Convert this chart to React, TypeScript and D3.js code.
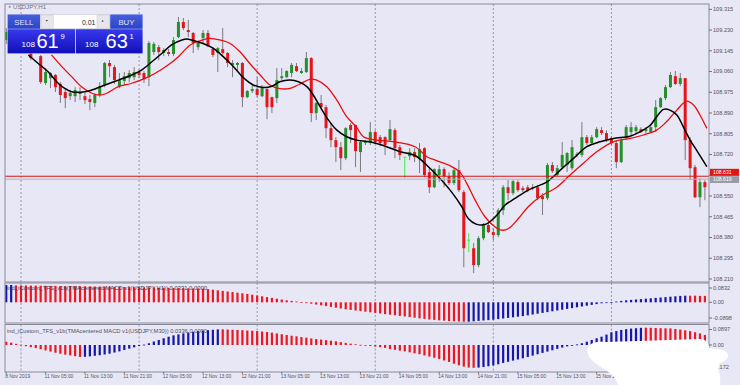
import React from "react";
import * as d3 from "d3";

// ---------- DATA ----------
const symbolTitle = "USDJPY,H1";
const firstBar = -3; // bar index of the first candle (0 = 11 Nov 00:00)

const barOpen = [
  109.189, 109.222, 109.197, 109.169, 109.189, 109.160, 109.148, 109.123, 109.013, 109.033,
  109.046, 109.009, 108.976, 108.959, 108.959, 108.976, 108.959, 108.947, 108.931, 108.964,
  109.005, 109.095, 109.078, 109.000, 109.021, 109.033, 109.037, 109.058, 109.054, 109.037,
  109.140, 109.160, 109.136, 109.140, 109.132, 109.201, 109.263, 109.230, 109.218, 109.160,
  109.197, 109.218, 109.152, 109.136, 109.152, 109.136, 109.087, 109.087, 109.095, 108.955,
  108.980, 108.988, 108.959, 108.988, 108.955, 108.951, 109.033, 109.037, 109.054, 109.082,
  109.054, 109.058, 109.115, 108.890, 108.931, 108.914, 108.828, 108.779, 108.750, 108.705,
  108.841, 108.841, 108.730, 108.767, 108.767, 108.812, 108.791, 108.791, 108.779, 108.820,
  108.750, 108.709, 108.713, 108.730, 108.701, 108.746, 108.648, 108.586, 108.636, 108.660,
  108.631, 108.603, 108.656, 108.566, 108.369, 108.336, 108.267, 108.377, 108.431, 108.402,
  108.390, 108.492, 108.586, 108.562, 108.607, 108.582, 108.586, 108.582, 108.586, 108.549,
  108.541, 108.677, 108.636, 108.668, 108.677, 108.664, 108.718, 108.718, 108.791, 108.767,
  108.791, 108.820, 108.808, 108.787, 108.767, 108.689, 108.791, 108.812, 108.816, 108.824,
  108.816, 108.812, 108.832, 108.914, 108.951, 108.996, 109.041, 109.009, 109.033, 108.779,
  108.668, 108.545, 108.607,
];
const barHigh = [
  109.238, 109.230, 109.210, 109.201, 109.197, 109.173, 109.160, 109.128, 109.074, 109.058,
  109.050, 109.017, 108.992, 108.984, 108.996, 108.996, 108.972, 108.964, 108.972, 109.017,
  109.099, 109.107, 109.087, 109.054, 109.058, 109.066, 109.078, 109.066, 109.062, 109.185,
  109.181, 109.169, 109.156, 109.152, 109.201, 109.283, 109.279, 109.271, 109.222, 109.181,
  109.230, 109.230, 109.160, 109.160, 109.238, 109.140, 109.107, 109.099, 109.099, 108.984,
  109.005, 109.037, 109.005, 108.992, 108.957, 109.074, 109.074, 109.066, 109.095, 109.095,
  109.074, 109.140, 109.119, 108.935, 108.964, 108.923, 108.849, 108.791, 108.771, 108.832,
  108.849, 108.843, 108.779, 108.779, 108.853, 108.820, 108.800, 108.795, 108.861, 108.828,
  108.759, 108.709, 108.746, 108.746, 108.767, 108.750, 108.664, 108.664, 108.677, 108.668,
  108.648, 108.664, 108.697, 108.574, 108.398, 108.357, 108.385, 108.439, 108.443, 108.418,
  108.500, 108.595, 108.615, 108.615, 108.615, 108.591, 108.595, 108.599, 108.595, 108.562,
  108.685, 108.689, 108.677, 108.771, 108.730, 108.779, 108.730, 108.853, 108.800, 108.800,
  108.832, 108.832, 108.820, 108.795, 108.779, 108.787, 108.841, 108.853, 108.841, 108.832,
  108.832, 108.841, 108.943, 108.955, 109.005, 109.058, 109.062, 109.054, 109.033, 108.791,
  108.677, 108.623, 108.615,
];
const barLow = [
  109.173, 109.181, 109.156, 109.156, 109.144, 109.107, 109.136, 109.009, 109.005, 108.992,
  108.976, 108.931, 108.910, 108.943, 108.935, 108.943, 108.927, 108.902, 108.914, 108.955,
  108.996, 109.037, 109.009, 108.992, 109.005, 109.017, 109.025, 109.033, 109.013, 109.000,
  109.128, 109.107, 109.123, 109.123, 109.123, 109.197, 109.230, 109.201, 109.136, 109.148,
  109.177, 109.160, 109.119, 109.058, 109.128, 109.078, 109.037, 109.066, 108.914, 108.951,
  108.972, 108.955, 108.955, 108.865, 108.890, 108.931, 109.025, 109.033, 109.037, 109.058,
  109.050, 109.054, 108.853, 108.861, 108.902, 108.787, 108.750, 108.689, 108.656, 108.697,
  108.767, 108.668, 108.648, 108.759, 108.759, 108.763, 108.754, 108.718, 108.771, 108.705,
  108.697, 108.623, 108.697, 108.689, 108.644, 108.627, 108.562, 108.582, 108.607, 108.586,
  108.595, 108.595, 108.566, 108.258, 108.320, 108.234, 108.258, 108.369, 108.398, 108.369,
  108.381, 108.472, 108.533, 108.554, 108.566, 108.566, 108.566, 108.574, 108.533, 108.472,
  108.533, 108.644, 108.631, 108.664, 108.648, 108.656, 108.709, 108.709, 108.759, 108.759,
  108.787, 108.800, 108.771, 108.759, 108.664, 108.685, 108.779, 108.800, 108.808, 108.808,
  108.808, 108.808, 108.812, 108.910, 108.943, 108.992, 109.005, 109.000, 108.697, 108.615,
  108.541, 108.504, 108.533,
];
const barClose = [
  109.222, 109.197, 109.169, 109.189, 109.156, 109.115, 109.140, 109.017, 109.058, 109.054,
  108.996, 108.964, 108.951, 108.972, 108.984, 108.968, 108.943, 108.935, 108.964, 109.000,
  109.095, 109.082, 109.025, 109.025, 109.041, 109.054, 109.058, 109.046, 109.029, 109.177,
  109.173, 109.140, 109.148, 109.132, 109.189, 109.263, 109.238, 109.222, 109.177, 109.177,
  109.218, 109.164, 109.128, 109.156, 109.136, 109.095, 109.095, 109.095, 108.955, 108.980,
  108.988, 108.964, 108.996, 108.914, 108.914, 109.025, 109.041, 109.062, 109.087, 109.062,
  109.062, 109.115, 108.890, 108.931, 108.914, 108.828, 108.779, 108.750, 108.705, 108.828,
  108.820, 108.734, 108.771, 108.771, 108.812, 108.771, 108.767, 108.759, 108.824, 108.746,
  108.718, 108.709, 108.730, 108.709, 108.742, 108.636, 108.586, 108.660, 108.660, 108.631,
  108.603, 108.656, 108.574, 108.336, 108.369, 108.267, 108.377, 108.431, 108.402, 108.390,
  108.492, 108.586, 108.562, 108.611, 108.574, 108.574, 108.574, 108.586, 108.541, 108.537,
  108.677, 108.652, 108.664, 108.718, 108.726, 108.750, 108.722, 108.791, 108.767, 108.791,
  108.824, 108.808, 108.779, 108.767, 108.689, 108.779, 108.832, 108.832, 108.832, 108.812,
  108.824, 108.832, 108.914, 108.951, 108.996, 109.046, 109.009, 109.033, 108.779, 108.664,
  108.545, 108.607, 108.586,
];

// centered TMA (black) — [bar, price]
const tmaCenteredBars = [1.5, 3.5, 5.5, 7.6, 8.9, 10.3, 13, 14.4, 17.1, 19.8, 22.5, 24.5, 26.6, 28.6, 30.6, 32.7, 33.7, 35, 37, 39.1, 41.1, 43.2, 45.2, 47.2, 49.3, 51, 52.6, 54.7, 56.4, 58.1, 59.4, 60.8, 62.5, 64.2, 66.2, 68.2, 70.9, 74.3, 77, 80.1, 82.8, 85.5, 87.5, 89.6, 90.9, 92.5, 94.3, 95.7, 97, 98.4, 100.4, 103.5, 106.9, 109.6, 112.3, 115, 117.7, 120.4, 123.8, 125.8, 127.9, 129.2, 130.6, 131.9, 133.3, 134.6, 136, 137.3, 139.4];
const tmaCenteredValues = [109.128, 109.093, 109.059, 109.011, 108.991, 108.977, 108.977, 108.984, 109.005, 109.025, 109.046, 109.066, 109.100, 109.134, 109.169, 109.189, 109.193, 109.187, 109.175, 109.155, 109.121, 109.080, 109.035, 109.005, 108.995, 109.000, 109.018, 109.025, 109.018, 108.998, 108.964, 108.916, 108.861, 108.820, 108.793, 108.779, 108.772, 108.752, 108.732, 108.716, 108.670, 108.615, 108.567, 108.506, 108.458, 108.435, 108.433, 108.451, 108.478, 108.513, 108.540, 108.578, 108.608, 108.656, 108.704, 108.752, 108.772, 108.786, 108.795, 108.813, 108.840, 108.875, 108.905, 108.902, 108.882, 108.834, 108.779, 108.738, 108.670];

// lagged TMA (red)
const tmaLaggedBars = [6.2, 8.3, 10.3, 12.3, 14.4, 15.7, 17.1, 19.8, 22.5, 25.2, 27.2, 29.9, 32, 34.4, 36.4, 38.4, 40.5, 42.5, 44.5, 46.5, 48.6, 50.6, 52.6, 54.7, 56.7, 58.7, 60.1, 62.1, 64.2, 66.2, 68.2, 69.6, 72.3, 76, 80.1, 82.5, 84.2, 86.9, 89.2, 90.6, 92.3, 94.3, 96.3, 97.7, 99.1, 101.1, 103.1, 105.5, 108.9, 111.6, 114.3, 117, 120.4, 123.8, 126.5, 129.2, 131.2, 133.3, 135.3, 136.7, 138, 139.4];
const tmaLaggedValues = [109.128, 109.080, 109.039, 108.998, 108.971, 108.964, 108.968, 108.998, 109.012, 109.032, 109.052, 109.087, 109.121, 109.169, 109.186, 109.196, 109.189, 109.175, 109.141, 109.093, 109.046, 109.005, 108.990, 108.991, 109.009, 109.028, 109.025, 108.999, 108.943, 108.875, 108.832, 108.793, 108.779, 108.772, 108.752, 108.711, 108.697, 108.677, 108.648, 108.602, 108.533, 108.465, 108.424, 108.410, 108.417, 108.458, 108.506, 108.547, 108.586, 108.636, 108.684, 108.731, 108.772, 108.786, 108.800, 108.820, 108.854, 108.902, 108.939, 108.923, 108.882, 108.827];

const bidPrice = 108.619;
const askPrice = 108.631;

// sub-window 1 histogram (one value per bar)
const macdH1 = [
  0.0865, 0.0865, 0.0845, 0.084, 0.084, 0.0835, 0.083, 0.083, 0.0825, 0.082,
  0.082, 0.0815, 0.081, 0.081, 0.0805, 0.080, 0.080, 0.0795, 0.079, 0.079,
  0.0785, 0.078, 0.0775, 0.077, 0.0765, 0.076, 0.0755, 0.075, 0.0745, 0.074,
  0.0735, 0.073, 0.0725, 0.072, 0.0715, 0.071, 0.0705, 0.070, 0.0695, 0.069,
  0.068, 0.066, 0.063, 0.060, 0.057, 0.054, 0.051, 0.048, 0.045, 0.042,
  0.038, 0.034, 0.030, 0.026, 0.022, 0.018, 0.014, 0.010, 0.007, 0.004,
  0.001, -0.003, -0.007, -0.011, -0.015, -0.019, -0.023, -0.027, -0.031, -0.035,
  -0.038, -0.041, -0.044, -0.047, -0.050, -0.053, -0.056, -0.059, -0.062, -0.065,
  -0.068, -0.071, -0.074, -0.077, -0.080, -0.083, -0.086, -0.088, -0.090, -0.092,
  -0.094, -0.095, -0.096, -0.097, -0.097, -0.095, -0.093, -0.091, -0.089, -0.087,
  -0.084, -0.081, -0.078, -0.075, -0.072, -0.069, -0.065, -0.061, -0.057, -0.053,
  -0.049, -0.045, -0.041, -0.037, -0.033, -0.029, -0.025, -0.021, -0.017, -0.013,
  -0.009, -0.005, -0.002, 0.001, 0.004, 0.007, 0.010, 0.012, 0.014, 0.016,
  0.018, 0.020, 0.022, 0.024, 0.026, 0.028, 0.030, 0.032, 0.033, 0.033,
  0.033, 0.032, 0.032,
];
const macdH1BlueRanges = [[-3, -2], [91, 135]];

// sub-window 2 histogram
const macdM30 = [
  0.017, 0.012, 0.006, 0.001, -0.006, -0.011, -0.016, -0.022, -0.028, -0.034,
  -0.040, -0.045, -0.050, -0.054, -0.058, -0.062, -0.061, -0.059, -0.056, -0.053,
  -0.049, -0.045, -0.039, -0.033, -0.026, -0.019, -0.012, -0.005, 0.002, 0.009,
  0.018, 0.026, 0.035, 0.043, 0.050, 0.055, 0.060, 0.065, 0.069, 0.072,
  0.075, 0.077, 0.079, 0.081, 0.081, 0.080, 0.079, 0.078, 0.077, 0.075,
  0.074, 0.072, 0.070, 0.067, 0.064, 0.060, 0.056, 0.052, 0.048, 0.045,
  0.041, 0.038, 0.034, 0.031, 0.028, 0.025, 0.022, 0.019, 0.015, 0.011,
  0.007, 0.004, 0.001, -0.003, -0.005, -0.008, -0.011, -0.015, -0.021, -0.025,
  -0.029, -0.033, -0.038, -0.043, -0.048, -0.054, -0.060, -0.066, -0.073, -0.080,
  -0.088, -0.097, -0.105, -0.112, -0.117, -0.118, -0.117, -0.114, -0.110, -0.106,
  -0.100, -0.093, -0.087, -0.081, -0.075, -0.069, -0.062, -0.055, -0.048, -0.041,
  -0.034, -0.027, -0.020, -0.013, -0.007, -0.002, 0.003, 0.009, 0.017, 0.026,
  0.035, 0.043, 0.054, 0.066, 0.072, 0.078, 0.082, 0.085, 0.087, 0.089,
  0.0897, 0.089, 0.088, 0.087, 0.0865, 0.086, 0.083, 0.080, 0.076, 0.072,
  0.066, 0.060, 0.052,
];
const macdM30BlueRanges = [[13, 40], [93, 126]];

const priceTicks = [109.315, 109.230, 109.145, 109.060, 108.975, 108.890, 108.805, 108.720, 108.635, 108.550, 108.465, 108.380, 108.295, 108.210];
const sub1Ticks = [0.0832, 0, -0.0898];
const sub1TickLabels = ["0.0832", "0.00", "-0.0898"];
const sub2Ticks = [0.0897, 0, -0.172];
const sub2TickLabels = ["0.0897", "0.00", "-0.172"];

const timeLabels = ["8 Nov 2019", "11 Nov 05:00", "11 Nov 13:00", "11 Nov 21:00", "12 Nov 05:00", "12 Nov 13:00", "12 Nov 21:00", "13 Nov 05:00", "13 Nov 13:00", "13 Nov 21:00", "14 Nov 05:00", "14 Nov 13:00", "14 Nov 21:00", "15 Nov 05:00", "15 Nov 13:00", "15 Nov 21:00", "16 Nov 05:00", "16 Nov 13:00"];
const timeLabelBars = [-3, 5, 13, 21, 29, 37, 45, 53, 61, 69, 77, 85, 93, 101, 109, 117, 125, 133];
const daySeparatorBars = [0, 24, 48, 72, 96, 120];

const sub1Title = "ind_iCustom_TFS_v1b(TMAcentered MACD v1(USDJPY,H1)) 0.0331 0.0000";
const sub2Title = "ind_iCustom_TFS_v1b(TMAcentered MACD v1(USDJPY,M30)) 0.0336 0.0000";

const sellBig = "61", sellSmall = "108", sellPip = "9";
const buyBig = "63", buySmall = "108", buyPip = "1";
const lotSize = "0.01";

// ---------- STYLE ----------
const BG = "#e7e7f6";
const FRAME = "#8a8a98";
const GRID = "#8c8c9c";
const BULL = "#24902a";
const BEAR = "#e4161c";
const WICK = "#7a7a7a";
const DOJI = "#3cf03c";
const HIST_RED = "#ee1620";
const HIST_BLUE = "#1616aa";
const AXIS_TXT = "#545460";
const FONT = "'Liberation Sans', Arial, sans-serif";

const inRanges = (n: number, ranges: number[][]) => ranges.some(([a, b]) => n >= a && n <= b);

export default function App() {
  const L = 5, R = 709;
  const mainTop = 4, mainBot = 282;
  const s1Top = 283, s1Bot = 323;
  const s2Top = 324.5, s2Bot = 372;

  const x = d3.scaleLinear().domain([-3, 139]).range([6.24, 704.88]);
  const y = d3.scaleLinear().domain([108.21, 109.315]).range([279, 9.3]);
  const y1 = d3.scaleLinear().domain([-0.101, 0.0965]).range([322.5, 283]);
  const y2 = d3.scaleLinear().domain([-0.1383, 0.1036]).range([371.7, 325]);

  const bars = barOpen.map((o, i) => ({
    n: firstBar + i, o, h: barHigh[i], l: barLow[i], c: barClose[i],
  }));

  const line = d3
    .line<[number, number]>()
    .x((d) => x(d[0]))
    .y((d) => y(d[1]))
    .curve(d3.curveCatmullRom.alpha(0.5));
  const blackPts = tmaCenteredBars.map((b, i) => [b, tmaCenteredValues[i]] as [number, number]);
  const redPts = tmaLaggedBars.map((b, i) => [b, tmaLaggedValues[i]] as [number, number]);

  const hist = (vals: number[], ys: d3.ScaleLinear<number, number>, blue: number[][]) =>
    vals.map((v, i) => {
      const n = firstBar + i;
      const y0 = ys(0), yv = ys(v);
      const top = Math.min(y0, yv);
      const h = Math.max(0.8, Math.abs(yv - y0));
      return (
        <rect key={i} x={x(n) - 1.1} y={top} width={2.2} height={h}
          fill={inRanges(n, blue) ? HIST_BLUE : HIST_RED} />
      );
    });

  const clampLbl = (v: number, top: number, bot: number) => Math.max(top + 5, Math.min(bot - 5, v));
  // axis labels hidden behind the bid/ask price boxes (as in the terminal)
  const visibleTicks = priceTicks.filter((p) => Math.abs(y(p) - y(bidPrice)) > 7 && Math.abs(y(p) - y(askPrice)) > 7);

  return (
    <svg width={740} height={385} style={{ position: "absolute", left: 0, top: 0, display: "block" }}
      fontFamily={FONT}>
      <defs>
        <clipPath id="mainClip"><rect x={L} y={mainTop} width={R - L} height={mainBot - mainTop} /></clipPath>
        <clipPath id="s1Clip"><rect x={L} y={s1Top} width={R - L} height={s1Bot - s1Top} /></clipPath>
        <clipPath id="s2Clip"><rect x={L} y={s2Top} width={R - L} height={s2Bot - s2Top} /></clipPath>
        <linearGradient id="priceGrad" x1="0" y1="0" x2="0" y2="1">
          <stop offset="0" stopColor="#3838ee" />
          <stop offset="1" stopColor="#1010b8" />
        </linearGradient>
        <linearGradient id="btnGrad" x1="0" y1="0" x2="0" y2="1">
          <stop offset="0" stopColor="#4660dc" />
          <stop offset="1" stopColor="#2a44c8" />
        </linearGradient>
      </defs>
      <rect x={0} y={0} width={740} height={385} fill={BG} />

      {/* day separators */}
      {daySeparatorBars.map((b) => (
        <g key={b}>
          <line x1={x(b)} x2={x(b)} y1={mainTop} y2={mainBot} stroke={GRID} strokeDasharray="2,2" strokeWidth={0.9} />
          <line x1={x(b)} x2={x(b)} y1={s1Top} y2={s1Bot} stroke={GRID} strokeDasharray="2,2" strokeWidth={0.9} />
          <line x1={x(b)} x2={x(b)} y1={s2Top} y2={s2Bot} stroke={GRID} strokeDasharray="2,2" strokeWidth={0.9} />
        </g>
      ))}

      {/* main chart */}
      <g clipPath="url(#mainClip)">
        {bars.map((b) => {
          const cx = x(b.n);
          if (b.o === b.c) {
            return (
              <g key={b.n}>
                <line x1={cx} x2={cx} y1={y(b.h)} y2={y(b.l)} stroke={DOJI} strokeWidth={1} />
                <line x1={cx - 1.5} x2={cx + 1.5} y1={y(b.o)} y2={y(b.o)} stroke={DOJI} strokeWidth={1} />
              </g>
            );
          }
          const up = b.c > b.o;
          const top = y(Math.max(b.o, b.c));
          const bot = y(Math.min(b.o, b.c));
          return (
            <g key={b.n}>
              <line x1={cx} x2={cx} y1={y(b.h)} y2={y(b.l)} stroke={WICK} strokeWidth={1} />
              <rect x={cx - 1.5} y={top} width={3} height={Math.max(1, bot - top)} fill={up ? BULL : BEAR} />
            </g>
          );
        })}
        <path d={line(redPts) || ""} fill="none" stroke="#ee0a0a" strokeWidth={1.3} />
        <path d={line(blackPts) || ""} fill="none" stroke="#000" strokeWidth={1.5} />
        <line x1={L} x2={R} y1={y(askPrice)} y2={y(askPrice)} stroke="#e01010" strokeWidth={1} />
        <line x1={L} x2={R} y1={y(bidPrice)} y2={y(bidPrice)} stroke="#b0b0b8" strokeWidth={1} />
      </g>

      {/* sub windows */}
      <g clipPath="url(#s1Clip)">{hist(macdH1, y1, macdH1BlueRanges)}</g>
      <g clipPath="url(#s2Clip)">{hist(macdM30, y2, macdM30BlueRanges)}</g>
      <text x={7} y={290.3} fontSize={5.6} fill="#404050" textLength={200} lengthAdjust="spacingAndGlyphs">{sub1Title}</text>
      <text x={7} y={333} fontSize={5.6} fill="#505060" textLength={200} lengthAdjust="spacingAndGlyphs">{sub2Title}</text>

      {/* frames */}
      <rect x={L} y={mainTop} width={R - L} height={mainBot - mainTop} fill="none" stroke={FRAME} strokeWidth={1} />
      <rect x={L} y={s1Top} width={R - L} height={s1Bot - s1Top} fill="none" stroke={FRAME} strokeWidth={1} />
      <rect x={L} y={s2Top} width={R - L} height={s2Bot - s2Top} fill="none" stroke={FRAME} strokeWidth={1} />

      {/* price axis */}
      {priceTicks.map((p) => (
        <line key={"t" + p} x1={R} x2={R + 3} y1={y(p)} y2={y(p)} stroke={AXIS_TXT} strokeWidth={0.8} />
      ))}
      {visibleTicks.map((p) => (
        <text key={p} x={R + 4} y={y(p)} dy="0.35em" fontSize={5.6} fill={AXIS_TXT}>{p.toFixed(3)}</text>
      ))}
      <rect x={R + 1} y={y(askPrice) - 7.4} width={29} height={7} fill="#e01414" />
      <text x={R + 4} y={y(askPrice) - 3.9} dy="0.35em" fontSize={5.2} fill="#fff">{askPrice.toFixed(3)}</text>
      <rect x={R + 1} y={y(bidPrice) - 3} width={29} height={6.8} fill="#9a9aa4" />
      <text x={R + 4} y={y(bidPrice) + 0.5} dy="0.35em" fontSize={5.2} fill="#fff">{bidPrice.toFixed(3)}</text>

      {sub1Ticks.map((v, i) => (
        <g key={"s1" + i}>
          <line x1={R} x2={R + 3} y1={clampLbl(y1(v), s1Top, s1Bot)} y2={clampLbl(y1(v), s1Top, s1Bot)} stroke={AXIS_TXT} strokeWidth={0.8} />
          <text x={R + 4} y={clampLbl(y1(v), s1Top, s1Bot)} dy="0.35em" fontSize={5.6} fill={AXIS_TXT}>{sub1TickLabels[i]}</text>
        </g>
      ))}
      {sub2Ticks.map((v, i) => (
        <g key={"s2" + i}>
          <line x1={R} x2={R + 3} y1={clampLbl(y2(v), s2Top, s2Bot)} y2={clampLbl(y2(v), s2Top, s2Bot)} stroke={AXIS_TXT} strokeWidth={0.8} />
          <text x={R + 4} y={clampLbl(y2(v), s2Top, s2Bot)} dy="0.35em" fontSize={5.6} fill={AXIS_TXT}>{sub2TickLabels[i]}</text>
        </g>
      ))}

      {/* time axis */}
      {timeLabels.map((t, i) => (
        <g key={t}>
          <line x1={x(timeLabelBars[i])} x2={x(timeLabelBars[i])} y1={s2Bot} y2={s2Bot + 2} stroke={AXIS_TXT} strokeWidth={0.7} />
          <text x={x(timeLabelBars[i]) - 1} y={377.6} fontSize={4.9} fill={AXIS_TXT}>{t}</text>
        </g>
      ))}

      {/* title */}
      <path d="M8.4,7.6 L9.8,5.2 L11.2,7.6 Z" fill="#8a8a96" />
      <text x={13} y={9.3} fontSize={6.2} fill="#70707c">{symbolTitle}</text>

      {/* one-click trading panel */}
      <g>
        <rect x={7.3} y={14} width={135.6} height={39.6} fill="#f4f4fa" />
        <rect x={7.6} y={14.4} width={32.4} height={14.4} fill="url(#btnGrad)" />
        <text x={23.8} y={25} fontSize={7.8} fill="#dfe6ff" textAnchor="middle">SELL</text>
        <rect x={40.6} y={14.6} width={69} height={14} fill="#ffffff" stroke="#c6c6d2" strokeWidth={0.6} />
        <rect x={41} y={15} width={12.2} height={13.2} fill="#e6e6ec" stroke="#c8c8d0" strokeWidth={0.5} />
        <path d="M45.6,20 L48,20 L46.8,21.6 Z" fill="#333" />
        <rect x={97} y={15} width={12.2} height={13.2} fill="#e6e6ec" stroke="#c8c8d0" strokeWidth={0.5} />
        <path d="M101.4,21.6 L103.8,21.6 L102.6,20 Z" fill="#333" />
        <text x={95.5} y={25} fontSize={7} fill="#222" textAnchor="end">{lotSize}</text>
        <rect x={110.2} y={14.4} width={32.4} height={14.4} fill="url(#btnGrad)" />
        <text x={126.4} y={25} fontSize={7.8} fill="#dfe6ff" textAnchor="middle">BUY</text>

        <rect x={7.6} y={29.2} width={67.6} height={24.2} fill="url(#priceGrad)" />
        <rect x={75.9} y={29.2} width={66.7} height={24.2} fill="url(#priceGrad)" />
        <text x={21.5} y={47.4} fontSize={8} fill="#fff">{sellSmall}</text>
        <text x={36.4} y={48.4} fontSize={20} fill="#fff">{sellBig}</text>
        <text x={60.6} y={38.6} fontSize={7.6} fill="#fff">{sellPip}</text>
        <text x={85} y={47.4} fontSize={8} fill="#fff">{buySmall}</text>
        <text x={105.6} y={48.4} fontSize={20} fill="#fff">{buyBig}</text>
        <text x={129.6} y={38.6} fontSize={7.6} fill="#fff">{buyPip}</text>
      </g>

      {/* white blot over bottom-right corner of the screenshot */}
      <path
        d="M587,350 C588,343 596,341 606,342 L640,341 L700,339 C706,339 709,344 709,348 C716,349 727,349 728,355 C729,359 724,361 720,363 C718,366 718,369 719,371 C720,376 721,381 720,385 L618,385 C616,378 612,374 604,369 C596,364 588,359 587,350 Z"
        fill="#ffffff"
      />
    </svg>
  );
}
